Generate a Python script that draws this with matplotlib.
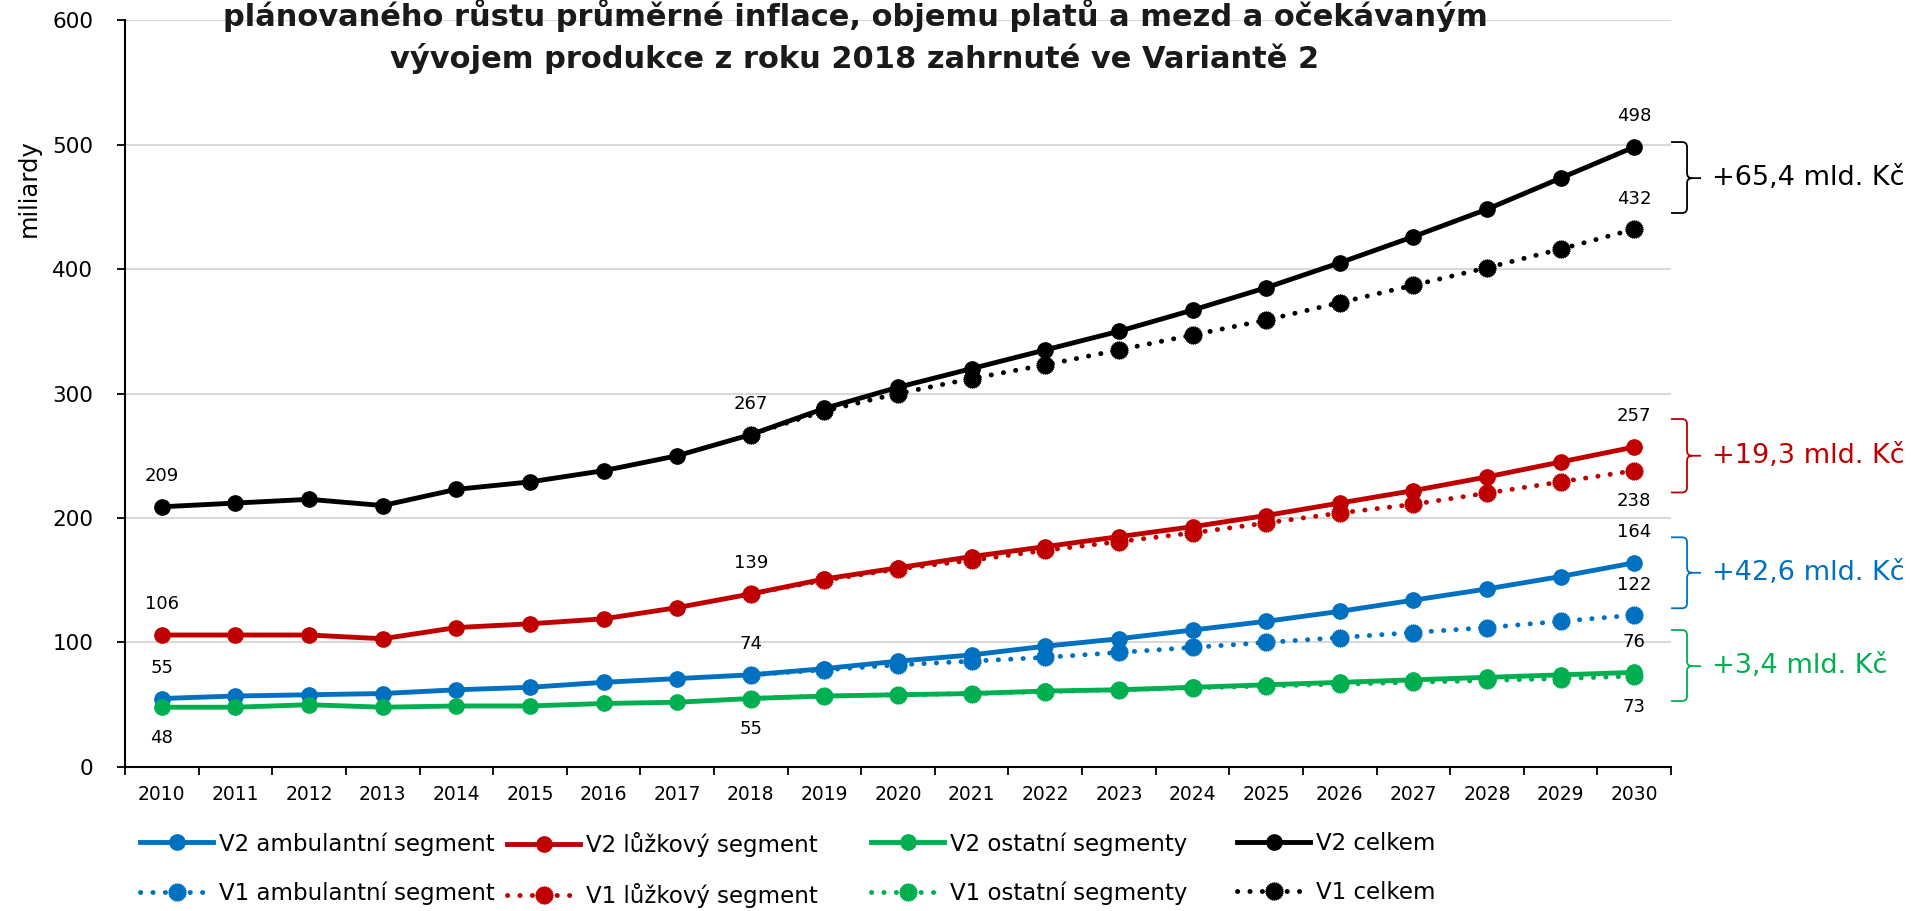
import numpy as np
import matplotlib
matplotlib.use("Agg")
import matplotlib.pyplot as plt
from matplotlib.path import Path
from matplotlib.patches import PathPatch

plt.rcParams['font.family'] = ['DejaVu Sans']

years = [str(y) for y in range(2010, 2031)]
nan = np.nan

v2_amb = [55, 57, 58, 59, 62, 64, 68, 71, 74, 79, 85, 90, 97, 103, 110, 117, 125, 134, 143, 153, 164]
v2_luz = [106, 106, 106, 103, 112, 115, 119, 128, 139, 151, 160, 169, 177, 185, 193, 202, 212, 222, 233, 245, 257]
v2_ost = [48, 48, 50, 48, 49, 49, 51, 52, 55, 57, 58, 59, 61, 62, 64, 66, 68, 70, 72, 74, 76]
v2_cel = [209, 212, 215, 210, 223, 229, 238, 250, 267, 288, 305, 320, 335, 350, 367, 385, 405, 426, 448, 473, 498]

v1_amb = [nan] * 8 + [74, 78, 82, 85, 88, 92, 96, 100, 104, 108, 112, 117, 122]
v1_luz = [nan] * 8 + [139, 150, 159, 166, 174, 181, 188, 196, 204, 211, 220, 229, 238]
v1_ost = [nan] * 8 + [55, 57, 58, 59, 60.5, 62, 63.5, 65, 66.5, 68, 69.5, 71, 73]
v1_cel = [nan] * 8 + [267, 286, 300, 312, 323, 335, 347, 359, 373, 387, 401, 416, 432]

labels_v2 = ["V2 ambulantní segment", "V2 lůžkový segment", "V2 ostatní segmenty", "V2 celkem"]
labels_v1 = ["V1 ambulantní segment", "V1 lůžkový segment", "V1 ostatní segmenty", "V1 celkem"]
colors = ["#0070C0", "#C00000", "#00B050", "#000000"]

diff_texts = ["+42,6 mld. Kč", "+19,3 mld. Kč", "+3,4 mld. Kč", "+65,4 mld. Kč"]
# bracket extents (top, mid, bottom) in data units
brackets = [(184.5, 156, 127.5), (279.5, 250, 220.5), (110, 81, 53), (502, 473, 445)]

title1 = "plánovaného růstu průměrné inflace, objemu platů a mezd a očekávaným"
title2 = "vývojem produkce z roku 2018 zahrnuté ve Variantě 2"

# jagged circle marker (dotted outline look)
n = 28
ang = np.linspace(0, 2 * np.pi, 2 * n, endpoint=False)
rad = np.where(np.arange(2 * n) % 2 == 0, 1.0, 0.82)
verts = np.column_stack([rad * np.cos(ang), rad * np.sin(ang)])
verts = np.vstack([verts, verts[:1]])
jag = Path(verts, [Path.MOVETO] + [Path.LINETO] * (2 * n - 1) + [Path.CLOSEPOLY])

fig = plt.figure(figsize=(19.15, 9.11), dpi=100)
ax = fig.add_axes([0.0653, 0.1581, 0.8073, 0.8199])
x = np.arange(len(years))

v2_all = [v2_amb, v2_luz, v2_ost, v2_cel]
v1_all = [v1_amb, v1_luz, v1_ost, v1_cel]

h2, h1 = [], []
for vals, c, lab in zip(v1_all, colors, labels_v1):
    ln, = ax.plot(x, vals, color=c, lw=3.5, linestyle=(0, (0.05, 2.5)), dash_capstyle='round',
                  marker=jag, markersize=12.5, markerfacecolor=c, markeredgecolor=c, label=lab, zorder=3)
    h1.append(ln)
for vals, c, lab in zip(v2_all, colors, labels_v2):
    ln, = ax.plot(x, vals, color=c, lw=3.5, marker='o', markersize=11,
                  markerfacecolor=c, markeredgecolor=c, label=lab, zorder=4)
    h2.append(ln)

ax.set_xlim(-0.5, len(years) - 0.5)
ax.set_ylim(0, 600)
ax.set_yticks(range(0, 601, 100))
ax.set_xticks(x)
ax.set_xticklabels(years)
ax.set_xticks(np.arange(-0.5, len(years)), minor=True)
ax.tick_params(axis='x', which='major', length=0, pad=13, labelsize=13.5)
ax.tick_params(axis='x', which='minor', length=6, width=1.3)
ax.tick_params(axis='y', length=6, width=1.3, pad=17, labelsize=15.5)
ax.grid(axis='y', color='#d9d9d9', lw=1.5, zorder=0)
ax.set_axisbelow(True)
for s in ['top', 'right']:
    ax.spines[s].set_visible(False)
for s in ['left', 'bottom']:
    ax.spines[s].set_linewidth(1.5)

fig.text(29 / 1915, 1 - 188 / 911, "miliardy", rotation=90, ha='center', va='center', fontsize=17.5)

# data labels
def lab(i, v, above=True):
    ax.annotate(f"{v:.0f}", (x[i], v), xytext=(0, 22 if above else -22), textcoords='offset points',
                ha='center', va='center', fontsize=13, zorder=6)

for vals in v2_all:
    lab(0, vals[0], above=vals is not v2_ost)
    lab(8, vals[8], above=vals is not v2_ost)
    lab(20, vals[20], above=True)
lab(20, v1_cel[20], True)
lab(20, v1_luz[20], False)
lab(20, v1_amb[20], True)
lab(20, v1_ost[20], False)

# brackets
px = (len(years)) / (1671 - 125)   # data-x per pixel
py = 600 / (767 - 20)              # data-y per pixel
xr = len(years) - 0.5
x0 = xr
xv = xr + 16 * px
xt = xr + 30 * px
rx, ry = 5 * px, 5 * py
for (top, mid, bot), c, t in zip(brackets, colors, diff_texts):
    verts = [(x0, top), (xv - rx, top), (xv, top), (xv, top - ry), (xv, mid + ry), (xv, mid), (xv + rx, mid), (xt, mid),
             (xv + rx, mid), (xv, mid), (xv, mid - ry), (xv, bot + ry), (xv, bot), (xv - rx, bot), (x0, bot)]
    codes = [Path.MOVETO, Path.LINETO, Path.CURVE3, Path.CURVE3, Path.LINETO, Path.CURVE3, Path.CURVE3, Path.LINETO,
             Path.MOVETO, Path.CURVE3, Path.CURVE3, Path.LINETO, Path.CURVE3, Path.CURVE3, Path.LINETO]
    p = PathPatch(Path(verts, codes), fill=False, edgecolor=c, lw=1.3, clip_on=False)
    ax.add_patch(p)
    ax.text(xr + 41 * px, mid, t, color=c, fontsize=19.5, ha='left', va='center', clip_on=False)

fig.text(855 / 1915, 1 - 15 / 911, title1, ha='center', va='center', fontsize=22, fontweight='bold', color='#1a1a1a')
fig.text(855 / 1915, 1 - 59 / 911, title2, ha='center', va='center', fontsize=22, fontweight='bold', color='#1a1a1a')

# legends, one per column
col_x = [140, 507, 871, 1237]
for i in range(4):
    leg = fig.legend([h2[i], h1[i]], [labels_v2[i], labels_v1[i]], loc='upper left',
                     bbox_to_anchor=(col_x[i] / 1915, 1 - 832 / 911), frameon=False, fontsize=16.5,
                     handlelength=3.2, handletextpad=0.26, labelspacing=1.15, borderpad=0, borderaxespad=0)

fig.savefig("out.png", dpi=100)
